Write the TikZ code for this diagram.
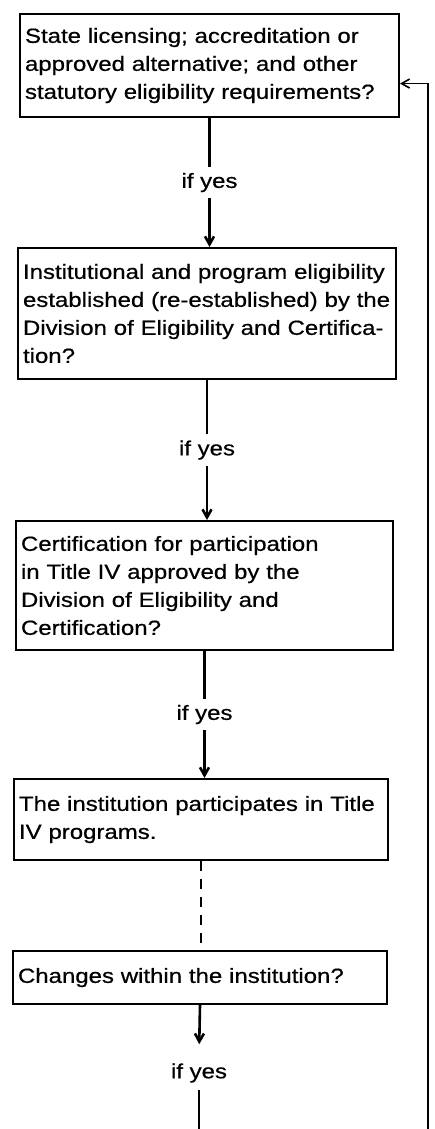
\documentclass[tikz,border=0pt]{standalone}
\usepackage{fontspec}
\setmainfont{Liberation Sans}[FakeStretch=1.17,FakeBold=0.6]
\usetikzlibrary{arrows.meta,shapes}
\tikzstyle{qbox}=[rectangle,draw=black,line width=2pt,anchor=north west,align=left,inner xsep=5pt,inner ysep=15pt,font=\fontsize{20.5pt}{28pt}\selectfont]
\tikzstyle{yes}=[fill=white,inner xsep=2pt,inner ysep=6pt,font=\fontsize{20.5pt}{28pt}\selectfont]
\tikzstyle{flow}=[->,>={Straight Barb[length=8pt,width=9pt]},line width=2.6pt]

\begin{document}
\begin{tikzpicture}[flow,x=1pt,y=-1pt]
\useasboundingbox (0,0) rectangle (434,1129);
\node[qbox,text width=369pt,inner ysep=14pt] (lic) at (19,13) {State licensing; accreditation or\\approved alternative; and other\\statutory eligibility requirements?};
\node[qbox,text width=368pt,inner ysep=16pt] (elig) at (17,247) {Institutional and program eligibility\\established (re-established) by the\\Division of Eligibility and Certifica-\\tion?};
\node[qbox,text width=367pt] (cert) at (15,520) {Certification for participation\\in Title IV approved by the\\Division of Eligibility and\\Certification?};
\node[qbox,text width=364pt,inner ysep=17pt] (part) at (13,778) {The institution participates in Title\\IV programs.};
\node[qbox,text width=364pt,inner ysep=17pt] (chg) at (12,950) {Changes within the institution?};
\node[yes] (more) at (199,1073) {if yes};
\coordinate (loopA) at (199,1129);
\coordinate (loopB) at (428,1129);
% main line
\draw (lic.south) -- node[yes]{if yes} (lic.south |- elig.north);
\draw (elig.south) -- node[yes]{if yes} (elig.south |- cert.north);
\draw (cert.south) -- node[yes]{if yes} (cert.south |- part.north);
\draw[-,dash pattern=on 10pt off 8pt,line width=2pt] (part.south) -- (part.south |- chg.north);
\draw[shorten >=12pt] (chg.south) -- (more.north);
\draw[-] (more.south) -- (loopA);
% back to the top
\draw[line width=1.6pt] (loopB) |- ([yshift=-18pt]lic.east);
\end{tikzpicture}
\end{document}
